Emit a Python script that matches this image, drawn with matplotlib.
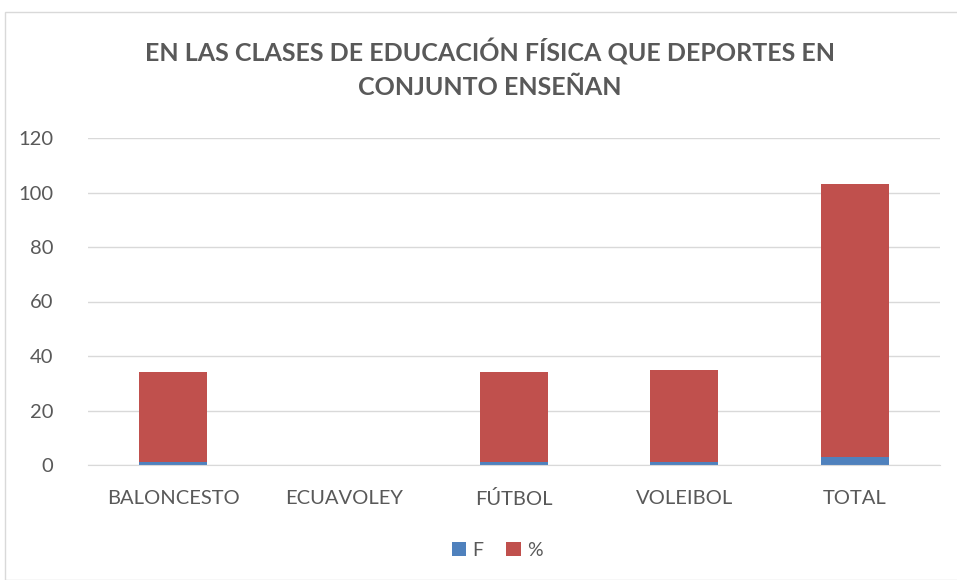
import matplotlib.pyplot as plt
from matplotlib.patches import Rectangle

categorias = ['BALONCESTO', 'ECUAVOLEY', 'FÚTBOL', 'VOLEIBOL', 'TOTAL']
f_vals = [1, 0, 1, 1, 3]
pct_vals = [33, 0, 33, 34, 100]

azul = '#4F81BD'
rojo = '#C0504D'
gris = '#595959'

plt.rcParams['font.family'] = ['Lato', 'DejaVu Sans']

fig = plt.figure(figsize=(9.57, 5.8), dpi=100)
fig.patches.append(Rectangle((5 / 957, 0), 1, 1 - 12 / 580, transform=fig.transFigure,
                             fill=False, edgecolor='#D9D9D9', linewidth=1))

ax = fig.add_axes([88 / 957, 1 - 465 / 580, (940 - 88) / 957, (465 - 138) / 580])
x = range(len(categorias))
ax.bar(x, f_vals, width=0.4, color=azul, label='F')
ax.bar(x, pct_vals, width=0.4, bottom=f_vals, color=rojo, label='%')

ax.set_ylim(0, 120)
ax.set_xlim(-0.5, len(categorias) - 0.5)
ax.set_yticks(range(0, 121, 20))
ax.set_xticks(list(x))
ax.set_xticklabels(categorias)
ax.tick_params(length=0, labelsize=14.5, colors=gris)
ax.tick_params(axis='x', pad=18)
ax.tick_params(axis='y', pad=25)
ax.grid(axis='y', color='#D9D9D9', linewidth=1)
ax.set_axisbelow(True)
for s in ['top', 'right', 'left']:
    ax.spines[s].set_visible(False)
ax.spines['bottom'].set_color('#D9D9D9')

fig.text(490 / 957, 1 - 69 / 580, 'EN LAS CLASES DE EDUCACIÓN FÍSICA QUE DEPORTES EN\nCONJUNTO ENSEÑAN',
         ha='center', va='center', fontsize=18, fontweight='bold', color=gris, linespacing=1.55)

fig.legend(loc='center', bbox_to_anchor=(497 / 957, 1 - 550 / 580), ncol=2, frameon=False,
           fontsize=14, labelcolor=gris, handlelength=0.75, handleheight=0.75,
           handletextpad=0.3, columnspacing=1.2)

fig.savefig('out.png', dpi=100)
